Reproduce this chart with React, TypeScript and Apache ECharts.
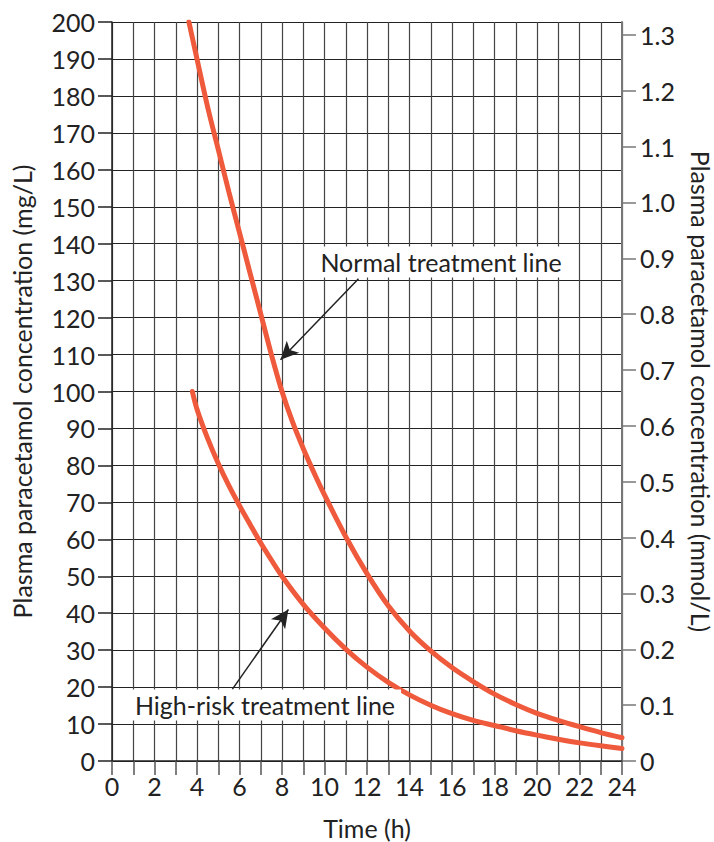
import React, { useEffect, useRef } from "react";
import * as echarts from "echarts";

// Time (h), concentration (mg/L)
const normalLine: [number, number][] = [
  [3.62, 200], [4.0, 190], [4.5, 177], [5.0, 165.5], [5.5, 154], [6.0, 143],
  [6.5, 132], [7.0, 121], [7.5, 110], [8.0, 100], [8.5, 91.7], [9.0, 84.6],
  [9.5, 78.1], [10.0, 72], [11.0, 60.7], [12.0, 50.7], [13.0, 42],
  [14.0, 35.2], [15.0, 29.8], [16.0, 25.3], [17.0, 21.5], [18.0, 18.1],
  [19.0, 15.3], [20.0, 12.9], [21.0, 11.0], [22.0, 9.3], [23.0, 7.7], [24.0, 6.3],
];
const highRiskLine: [number, number][] = [
  [3.78, 100], [4.0, 95.2], [4.5, 87.3], [5.0, 80.5], [5.5, 74.5], [6.0, 69.1],
  [6.5, 64], [7.0, 59], [7.5, 54.4], [8.0, 50], [9.0, 42.4], [10.0, 36],
  [11.0, 30.3], [12.0, 25.4], [13.0, 21.3], [14.0, 17.9], [15.0, 15.1],
  [16.0, 12.8], [17.0, 11.0], [18.0, 9.6], [19.0, 8.2], [20.0, 7.0],
  [21.0, 5.9], [22.0, 4.9], [23.0, 4.1], [24.0, 3.4],
];
// annotation arrows: [from, to] in (h, mg/L)
const normalArrow: [number, number][] = [[11.6, 130.5], [7.93, 108.6]];
const highRiskArrow: [number, number][] = [[5.66, 19.4], [8.3, 41]];

const xTickLabels = [0, 2, 4, 6, 8, 10, 12, 14, 16, 18, 20, 22, 24];
const mmolTicks = [0, 0.1, 0.2, 0.3, 0.4, 0.5, 0.6, 0.7, 0.8, 0.9, 1.0, 1.1, 1.2, 1.3];
const MG_PER_MMOL = 151.16;
const Y_MAX = 200;

const FONT = "Lato";
const RED = "#EF5A3C";
const INK = "#222";

export default function App() {
  const ref = useRef<HTMLDivElement>(null);
  useEffect(() => {
    document.body.style.margin = "0";
    const chart = echarts.init(ref.current!, null, { renderer: "svg" });
    const arrowMark = (a: [number, number][]) => ({
      silent: true,
      symbol: ["none", "arrow"],
      symbolSize: [13, 18],
      label: { show: false },
      lineStyle: { color: INK, width: 1.5, type: "solid" },
      emphasis: { disabled: true },
      data: [[{ coord: a[0] }, { coord: a[1] }]],
    });
    chart.setOption({
      animation: false,
      backgroundColor: "#fff",
      textStyle: { fontFamily: FONT },
      grid: {
        left: 112,
        right: 92,
        top: 22,
        bottom: 81,
        containLabel: false,
        outerBoundsMode: "none",
      },
      xAxis: {
        type: "value",
        min: 0,
        max: 24,
        interval: 1,
        name: "Time (h)",
        nameLocation: "middle",
        nameGap: 54,
        nameTextStyle: { fontSize: 25, color: INK, fontFamily: FONT },
        axisLine: { show: true, lineStyle: { color: INK, width: 1.5 } },
        axisTick: { show: true, length: 14, lineStyle: { color: "#555", width: 1.5 } },
        axisLabel: {
          fontSize: 25,
          color: INK,
          margin: 12,
          fontFamily: FONT,
          formatter: (v: number) => (xTickLabels.includes(v) ? String(v) : ""),
        },
        splitLine: { show: true, lineStyle: { color: "#444", width: 1.2 } },
      },
      yAxis: [
        {
          type: "value",
          min: 0,
          max: Y_MAX,
          interval: 10,
          position: "left",
          name: "Plasma paracetamol concentration (mg/L)",
          nameLocation: "middle",
          nameGap: 78,
          nameTextStyle: { fontSize: 25, color: INK, fontFamily: FONT },
          axisLine: { show: true, lineStyle: { color: INK, width: 1.5 } },
          axisTick: { show: true, length: 14, lineStyle: { color: INK, width: 1.5 } },
          axisLabel: { fontSize: 25, color: INK, margin: 17, fontFamily: FONT },
          splitLine: { show: true, lineStyle: { color: "#222", width: 1.2 } },
        },
        {
          type: "value",
          min: 0,
          max: Y_MAX / MG_PER_MMOL,
          position: "right",
          name: "Plasma paracetamol concentration (mmol/L)",
          nameLocation: "middle",
          nameRotate: -90,
          nameGap: 66,
          nameTextStyle: { fontSize: 25, color: INK, fontFamily: FONT },
          axisLine: { show: true, lineStyle: { color: "#777", width: 2 } },
          axisTick: {
            show: true,
            length: 14,
            customValues: mmolTicks,
            lineStyle: { color: "#777", width: 1.5 },
          },
          axisLabel: {
            fontSize: 25,
            color: INK,
            margin: 18,
            fontFamily: FONT,
            customValues: mmolTicks,
            formatter: (v: number) => (v === 0 ? "0" : v.toFixed(1)),
          },
          splitLine: { show: false },
        },
      ],
      series: [
        {
          type: "line",
          name: "Normal treatment line",
          data: normalLine,
          yAxisIndex: 0,
          smooth: 0.3,
          showSymbol: false,
          clip: true,
          lineStyle: { color: RED, width: 5, cap: "round" },
          itemStyle: { color: RED },
          markLine: arrowMark(normalArrow),
          z: 3,
        },
        {
          type: "line",
          name: "High-risk treatment line",
          data: highRiskLine,
          yAxisIndex: 0,
          smooth: 0.3,
          showSymbol: false,
          clip: true,
          lineStyle: { color: RED, width: 5, cap: "round" },
          itemStyle: { color: RED },
          markLine: arrowMark(highRiskArrow),
          z: 3,
        },
      ],
      graphic: [
        {
          type: "text",
          x: 441,
          y: 262,
          z: 10,
          style: {
            text: "Normal treatment line",
            fontFamily: FONT,
            fontSize: 25,
            fill: INK,
            align: "center",
            verticalAlign: "middle",
            backgroundColor: "#fff",
            padding: [3, 6, 3, 6],
          },
        },
        {
          type: "text",
          x: 265,
          y: 705,
          z: 10,
          style: {
            text: "High-risk treatment line",
            fontFamily: FONT,
            fontSize: 25,
            fill: INK,
            align: "center",
            verticalAlign: "middle",
            backgroundColor: "#fff",
            padding: [3, 6, 3, 6],
          },
        },
      ],
    });
    return () => chart.dispose();
  }, []);
  return (
    <div
      ref={ref}
      style={{ width: 714, height: 842, position: "absolute", left: 0, top: 0 }}
    />
  );
}
